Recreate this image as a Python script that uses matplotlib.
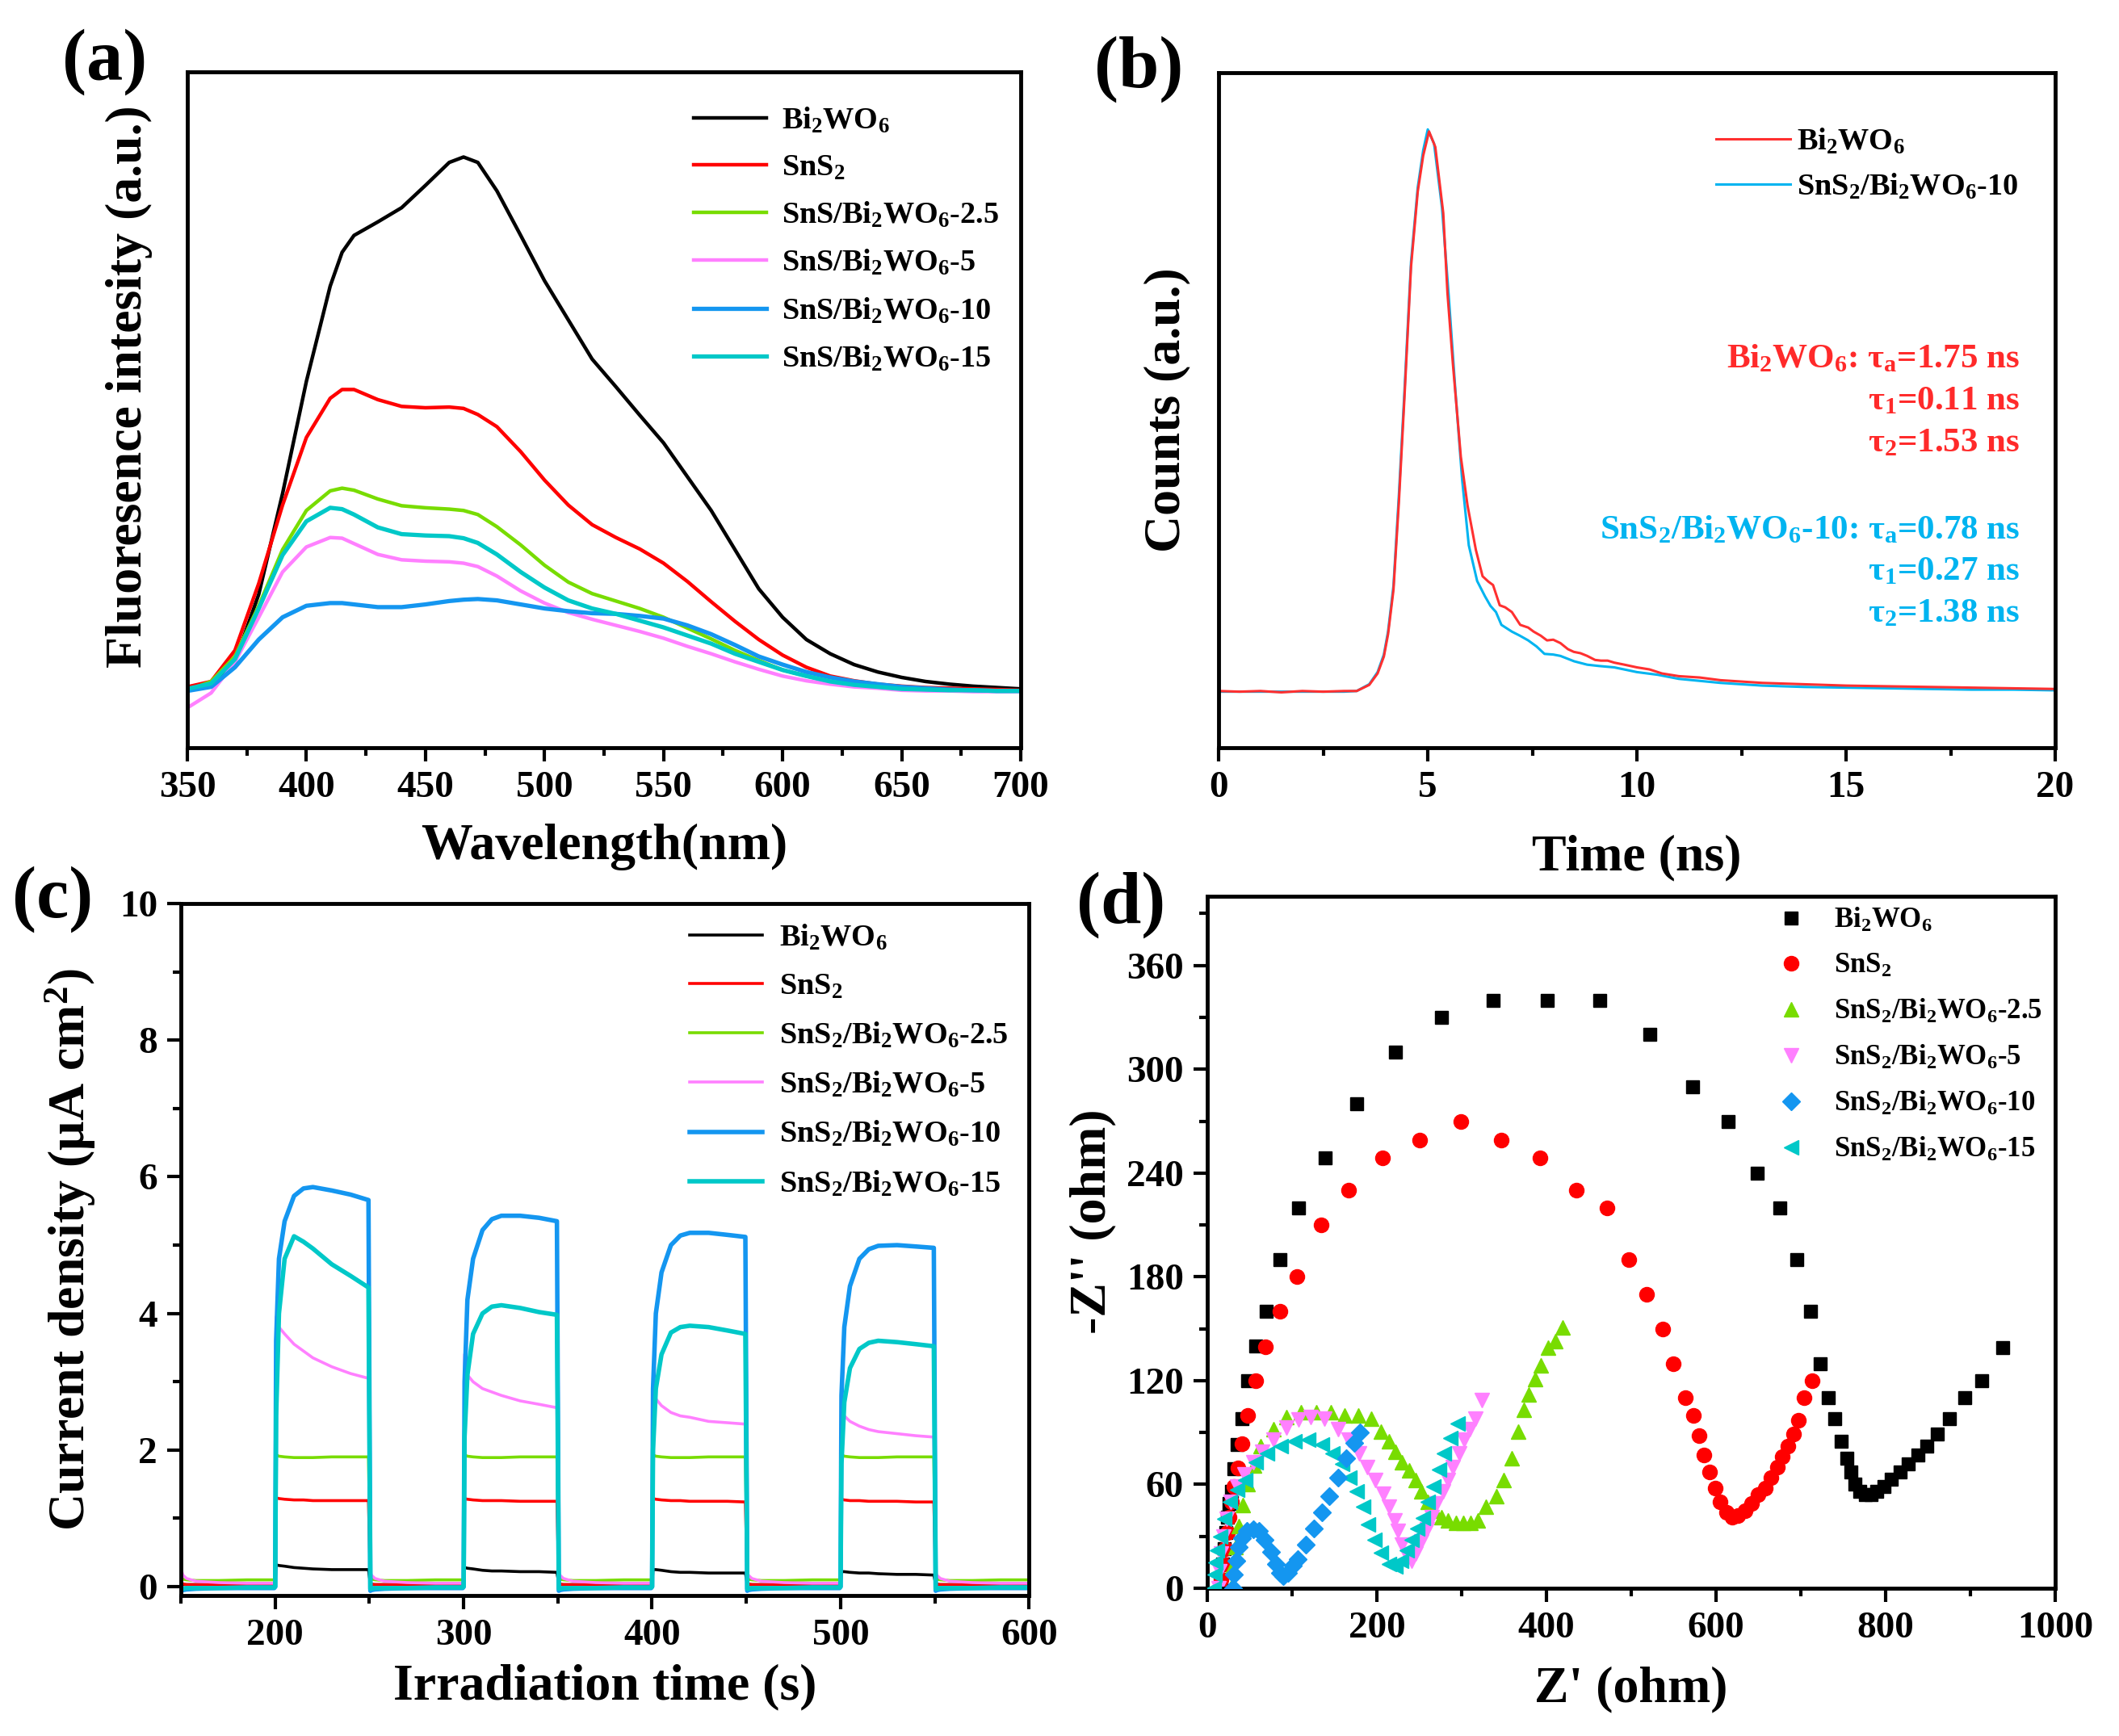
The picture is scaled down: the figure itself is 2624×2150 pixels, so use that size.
import matplotlib
matplotlib.use('Agg')
import matplotlib.pyplot as plt
from matplotlib.ticker import MultipleLocator

plt.rcParams['font.family'] = ['Liberation Serif', 'DejaVu Serif']
plt.rcParams['font.weight'] = 'bold'
plt.rcParams['axes.labelweight'] = 'bold'
plt.rcParams['mathtext.fontset'] = 'custom'
plt.rcParams['mathtext.rm'] = 'Liberation Serif:bold'
plt.rcParams['mathtext.it'] = 'Liberation Serif:bold'
plt.rcParams['mathtext.bf'] = 'Liberation Serif:bold'
plt.rcParams['mathtext.default'] = 'rm'

# ---------------- (a) PL spectra ----------------
wl = [350, 360, 370, 380, 390, 400, 410, 415, 420, 430, 440, 450, 460, 466, 472, 480, 490, 500, 510,
      520, 530, 540, 550, 560, 570, 580, 590, 600, 610, 620, 630, 640, 650, 660, 670, 680, 690, 700]
pl_bwo = [8.7, 9.2, 12.7, 22.7, 37.6, 54.2, 68.3, 73.3, 75.8, 77.8, 79.9, 83.2, 86.6, 87.4, 86.6, 82.4, 75.8,
          69.1, 63.3, 57.5, 53.4, 49.2, 45.1, 40.1, 35.1, 29.3, 23.5, 19.3, 16.0, 13.9, 12.3, 11.2, 10.4,
          9.8, 9.4, 9.1, 8.9, 8.7]
pl_sns2 = [9.0, 9.8, 14.4, 24.3, 35.9, 45.9, 51.7, 53.0, 53.0, 51.5, 50.5, 50.3, 50.4, 50.2, 49.3, 47.5, 43.8,
           39.6, 35.9, 33.0, 31.1, 29.4, 27.3, 24.6, 21.6, 18.7, 16.0, 13.7, 11.9, 10.6, 9.9, 9.4, 9.1,
           8.9, 8.8, 8.7, 8.6, 8.5]
pl_25 = [8.5, 9.8, 13.5, 21.0, 29.3, 35.1, 38.0, 38.4, 38.1, 36.8, 35.8, 35.5, 35.3, 35.1, 34.5, 32.7, 30.0,
         27.0, 24.5, 22.8, 21.7, 20.6, 19.3, 17.7, 16.1, 14.4, 12.9, 11.5, 10.6, 9.8, 9.3, 9.0, 8.7,
         8.6, 8.5, 8.5, 8.4, 8.4]
pl_5 = [5.9, 8.1, 12.7, 19.3, 26.0, 29.7, 31.1, 31.0, 30.2, 28.6, 27.8, 27.6, 27.5, 27.3, 26.8, 25.4, 23.2,
        21.4, 20.0, 19.0, 18.1, 17.2, 16.2, 15.0, 13.9, 12.7, 11.6, 10.6, 9.9, 9.4, 9.0, 8.8, 8.5,
        8.4, 8.4, 8.3, 8.3, 8.3]
pl_10 = [8.4, 9.0, 11.9, 16.0, 19.3, 21.0, 21.4, 21.4, 21.2, 20.8, 20.8, 21.2, 21.7, 21.9, 22.0, 21.8, 21.2,
         20.6, 20.2, 19.9, 19.8, 19.5, 19.1, 18.1, 16.8, 15.2, 13.5, 12.3, 11.2, 10.4, 9.8, 9.4, 9.0,
         8.8, 8.6, 8.5, 8.4, 8.4]
pl_15 = [8.7, 9.5, 13.1, 20.6, 28.5, 33.5, 35.5, 35.3, 34.5, 32.6, 31.6, 31.4, 31.3, 31.0, 30.3, 28.6, 26.0,
         23.7, 21.8, 20.6, 19.8, 18.8, 17.8, 16.6, 15.4, 13.9, 12.7, 11.5, 10.6, 9.8, 9.3, 9.0, 8.7,
         8.6, 8.5, 8.5, 8.4, 8.4]

# ---------------- (b) TRPL decay ----------------
t_red = [0, 0.5, 1.0, 1.5, 2.0, 2.5, 3.0, 3.3, 3.6, 3.8, 3.95, 4.05, 4.18, 4.31, 4.44, 4.6, 4.76, 4.89, 5.03,
         5.18, 5.37, 5.47, 5.6, 5.79, 5.95, 6.15, 6.31, 6.45, 6.56, 6.72, 6.85, 7.01, 7.21, 7.4, 7.53, 7.7,
         7.85, 8.0, 8.17, 8.35, 8.49, 8.65, 8.81, 9.0, 9.14, 9.3, 9.46, 9.7, 10.0, 10.3, 10.6, 11.0, 11.5,
         12.0, 12.5, 13.0, 13.5, 14.0, 15.0, 16.0, 17.0, 18.0, 19.0, 20.0]
c_red = [8.4, 8.3, 8.4, 8.2, 8.4, 8.3, 8.4, 8.4, 9.3, 11.0, 13.5, 16.8, 23.4, 36.5, 51.6, 71.3, 82.4, 87.7, 91.3,
         89.0, 79.2, 67.4, 56.9, 43.1, 35.9, 29.3, 25.4, 24.6, 24.1, 21.1, 20.8, 20.1, 18.2, 17.8, 17.2, 16.6,
         15.9, 16.0, 15.5, 14.6, 14.2, 14.0, 13.6, 13.0, 12.9, 12.9, 12.6, 12.3, 11.9, 11.6, 11.0, 10.6, 10.4,
         10.0, 9.8, 9.6, 9.5, 9.4, 9.2, 9.1, 9.0, 8.9, 8.8, 8.7]
t_blue = [0, 1.0, 2.0, 3.0, 3.3, 3.6, 3.8, 3.95, 4.05, 4.18, 4.31, 4.44, 4.6, 4.76, 4.89, 5.0, 5.15, 5.34, 5.5,
          5.66, 5.82, 5.98, 6.18, 6.37, 6.5, 6.63, 6.76, 7.01, 7.2, 7.4, 7.6, 7.79, 8.0, 8.17, 8.5, 8.81, 9.1,
          9.46, 10.0, 10.5, 11.0, 11.5, 12.0, 13.0, 14.0, 15.0, 16.0, 17.0, 18.0, 19.0, 20.0]
c_blue = [8.3, 8.3, 8.3, 8.3, 8.4, 9.4, 11.2, 13.8, 17.2, 24.0, 37.5, 52.5, 72.0, 83.0, 88.5, 91.6, 89.5, 80.0,
          67.0, 52.9, 39.8, 30.0, 24.7, 22.4, 21.0, 20.1, 18.2, 17.2, 16.6, 15.9, 15.0, 13.9, 13.8, 13.6, 12.8,
          12.3, 12.1, 11.9, 11.2, 10.8, 10.2, 9.9, 9.6, 9.2, 9.0, 8.9, 8.8, 8.7, 8.6, 8.6, 8.5]

# ---------------- (c) photocurrent ----------------
on_starts = [200, 300, 400, 500]
off_starts = [150, 250, 350, 450, 550]
on_dt = [0, 0.5, 2, 5, 10, 15, 20, 30, 40, 49.5]
off_dt = [0.5, 1, 3, 8, 20, 35, 49.5]

i_bwo_on = [[0.03, 0.32, 0.31, 0.30, 0.28, 0.27, 0.26, 0.25, 0.25, 0.25],
            [0.03, 0.28, 0.27, 0.26, 0.24, 0.23, 0.23, 0.22, 0.22, 0.21],
            [0.03, 0.25, 0.25, 0.24, 0.22, 0.21, 0.21, 0.20, 0.20, 0.20],
            [0.03, 0.22, 0.22, 0.21, 0.20, 0.20, 0.19, 0.18, 0.18, 0.17]]
i_bwo_off = [0.04, 0.03, 0.03, 0.03, 0.03, 0.03, 0.03]
i_sns2_on = [[0.03, 1.30, 1.29, 1.28, 1.27, 1.27, 1.26, 1.26, 1.26, 1.26],
             [0.03, 1.29, 1.28, 1.27, 1.26, 1.26, 1.26, 1.25, 1.25, 1.25],
             [0.03, 1.29, 1.28, 1.27, 1.26, 1.26, 1.25, 1.25, 1.25, 1.24],
             [0.03, 1.28, 1.27, 1.26, 1.26, 1.25, 1.25, 1.25, 1.24, 1.24]]
i_sns2_off = [0.06, 0.04, 0.03, 0.03, 0.03, 0.03, 0.03]
i_25_on = [[0.10, 1.93, 1.91, 1.90, 1.89, 1.89, 1.89, 1.90, 1.90, 1.90]] * 4
i_25_off = [0.12, 0.11, 0.10, 0.09, 0.09, 0.10, 0.10]
i_5_on = [[0.05, 3.95, 3.80, 3.70, 3.55, 3.45, 3.35, 3.22, 3.12, 3.05],
          [0.05, 3.40, 3.10, 3.00, 2.90, 2.85, 2.80, 2.72, 2.67, 2.62],
          [0.05, 2.95, 2.75, 2.65, 2.55, 2.50, 2.48, 2.42, 2.40, 2.38],
          [0.05, 2.70, 2.50, 2.42, 2.35, 2.30, 2.27, 2.24, 2.21, 2.19]]
i_5_off = [0.22, 0.17, 0.12, 0.08, 0.06, 0.05, 0.05]
i_10_on = [[0.0, 3.60, 4.80, 5.35, 5.72, 5.83, 5.85, 5.80, 5.74, 5.66],
           [0.0, 3.00, 4.20, 4.80, 5.22, 5.38, 5.43, 5.43, 5.40, 5.35],
           [0.0, 2.90, 4.00, 4.60, 5.00, 5.14, 5.18, 5.18, 5.15, 5.12],
           [0.0, 2.80, 3.80, 4.40, 4.80, 4.94, 4.99, 5.00, 4.98, 4.96]]
i_10_off = [-0.06, -0.05, -0.04, -0.03, -0.02, -0.02, -0.02]
i_15_on = [[0.0, 2.50, 4.00, 4.80, 5.13, 5.05, 4.95, 4.72, 4.55, 4.38],
           [0.0, 2.20, 3.10, 3.70, 4.00, 4.10, 4.12, 4.08, 4.02, 3.98],
           [0.0, 2.00, 2.90, 3.40, 3.72, 3.80, 3.82, 3.80, 3.75, 3.70],
           [0.0, 1.80, 2.70, 3.20, 3.48, 3.57, 3.60, 3.58, 3.55, 3.52]]
i_15_off = [-0.03, -0.03, -0.02, -0.02, -0.02, -0.01, -0.01]

# ---------------- (d) Nyquist ----------------
zr_bwo = [16, 18, 20, 22, 24, 26, 28.6, 31.4, 35, 41, 47.6, 57, 70, 86, 108, 139, 176, 222, 276, 337, 401, 463,
          522, 572, 614, 649, 675, 695, 711, 723, 732, 740, 748, 754, 759, 764, 770, 776, 783, 790, 798, 807,
          817, 827, 838, 849, 861, 875, 893, 913, 938]
zi_bwo = [5, 14, 23, 32, 41, 49, 56, 69, 83, 98, 120, 140, 160, 190, 220, 249, 280, 310, 330, 340, 340, 340,
          320, 290, 270, 240, 220, 190, 160, 130, 110, 98, 85, 75, 67, 60, 56, 54, 54, 56, 59, 63,
          67, 72, 77, 82, 89, 98, 110, 120, 139]
zr_sns2 = [14, 16, 19, 21, 23.5, 25.7, 28.6, 31.4, 36.5, 41, 47.6, 57, 68.6, 85.7, 106, 134, 167, 207, 251, 299,
           347, 392, 435, 471, 497, 518, 537, 550, 564, 573, 580, 586, 592, 599, 605, 612, 619, 626, 634, 642,
           650, 658, 665, 672, 678, 685, 691, 697, 704, 713]
zi_sns2 = [0, 5, 14, 23, 32, 41, 50, 59, 69.5, 83.5, 100, 120, 139.5, 160, 180, 210, 230, 249, 259, 270,
           259, 249, 230, 220, 190, 170, 150, 130, 110, 100, 88, 77, 67, 58, 50, 44, 41, 42, 45, 49,
           54, 58, 64, 70, 76, 82, 89, 97, 110, 120]
zr_25 = [28, 30, 33, 37, 42, 48, 55, 63, 78, 93, 111, 129, 146, 162, 178, 193, 205, 214, 222, 230, 238, 246,
         252, 260, 268, 276, 284, 293, 302, 311, 319, 329, 341, 350, 359, 367, 373, 379, 387, 393, 402, 411, 419]
zi_25 = [0, 12, 24, 36, 48, 60, 71, 82, 92, 99, 102, 102, 102, 100, 100, 98, 90.5, 85, 79, 73, 68, 62.5,
         56, 50, 45, 41, 39, 38, 38, 38, 39, 47, 53, 62.5, 75, 90.5, 103, 112, 121, 129, 139, 143, 151]
zr_5 = [13, 14, 16, 19, 23, 28, 35, 44, 54, 65, 78, 93, 108, 122, 138, 154, 167, 179, 189, 198, 208, 214, 221,
        225, 230, 236, 241, 246, 252, 259, 265, 271, 278, 284, 290, 297, 303, 310, 316, 324]
zi_5 = [0, 10, 20, 30, 40, 50, 59, 66, 73, 79, 86, 93, 97.5, 99, 98, 92, 86, 78, 70, 62.5, 54.6, 47, 39,
        33, 25, 18, 16, 20, 27, 34, 41, 49, 56, 62.5, 70, 78, 86, 92, 98, 109]
zr_10 = [31, 32, 34, 37, 41, 47, 54, 61, 68, 75, 81, 86, 90, 95, 101, 107, 116, 126, 135, 144, 154, 164, 173, 180]
zi_10 = [0, 8, 16, 24, 29, 33, 34, 33, 28, 21, 14, 9, 7, 9, 13, 17, 25, 34.5, 44, 53, 64, 75, 84, 90]
zr_15 = [8, 9, 10, 12, 15, 20, 27, 35, 45, 57, 71, 87, 103, 119, 135, 148, 159, 168, 176, 184, 190, 197, 205,
         214, 222, 229, 235, 241, 248, 254, 260, 267, 273, 279, 287, 295]
zi_15 = [0, 8, 15, 22, 30, 40, 50, 57, 62.5, 73, 78, 82, 85, 86, 83, 78, 72, 64, 56, 47, 37, 28, 20.5,
         14, 12.6, 16, 22, 28, 34.5, 40.6, 50, 59, 68.6, 78, 87, 95]

labels_a = ['Bi$_2$WO$_6$', 'SnS$_2$', 'SnS/Bi$_2$WO$_6$-2.5', 'SnS/Bi$_2$WO$_6$-5',
            'SnS/Bi$_2$WO$_6$-10', 'SnS/Bi$_2$WO$_6$-15']
labels_cd = ['Bi$_2$WO$_6$', 'SnS$_2$', 'SnS$_2$/Bi$_2$WO$_6$-2.5', 'SnS$_2$/Bi$_2$WO$_6$-5',
             'SnS$_2$/Bi$_2$WO$_6$-10', 'SnS$_2$/Bi$_2$WO$_6$-15']
colors = ['#000000', '#ff0000', '#78dc00', '#ff80ff', '#1496f0', '#00c8c8']

TICK = 34
LAB = 46
LEG = 27.5
PANEL = 65


def style_axis(ax):
    for s in ax.spines.values():
        s.set_linewidth(3.5)
    ax.tick_params(which='both', direction='out', width=3, labelsize=TICK, top=False, right=False, pad=9)
    ax.tick_params(which='major', length=12)
    ax.tick_params(which='minor', length=7)


fig = plt.figure(figsize=(26.24, 21.5), dpi=100)

# ---- (a)
ax = fig.add_axes([0.0884, 0.5693, 0.3933, 0.3893])
series_a = [pl_bwo, pl_sns2, pl_25, pl_5, pl_10, pl_15]
widths_a = [3.2, 3.2, 3.2, 3.2, 3.8, 3.8]
for y, c, lab, lw in zip(series_a, colors, labels_a, widths_a):
    ax.plot(wl, y, color=c, lw=lw, label=lab)
ax.set_xlim(350, 700)
ax.set_ylim(0, 100)
ax.set_yticks([])
ax.xaxis.set_major_locator(MultipleLocator(50))
ax.xaxis.set_minor_locator(MultipleLocator(25))
style_axis(ax)
ax.set_xlabel('Wavelength(nm)', fontsize=LAB)
ax.set_ylabel('Fluoresence intesity (a.u.)', fontsize=LAB)
ax.xaxis.set_label_coords(0.5, -0.112)
ax.yaxis.set_label_coords(-0.042, 0.535)
ax.legend(loc='upper left', bbox_to_anchor=(0.608, 0.95), frameon=False, fontsize=LEG,
          handlelength=2.35, handletextpad=0.5, labelspacing=0.6, borderpad=0, borderaxespad=0)
fig.text(0.0495, 0.9645, '(a)', fontsize=PANEL, ha='center', va='center')

# ---- (b)
ax = fig.add_axes([0.5751, 0.5693, 0.3948, 0.3888])
ax.plot(t_blue, c_blue, color='#00b4f0', lw=2.2, label='SnS$_2$/Bi$_2$WO$_6$-10')
ax.plot(t_red, c_red, color='#ff3030', lw=2.2, label='Bi$_2$WO$_6$')
ax.set_xlim(0, 20)
ax.set_ylim(0, 100)
ax.set_yticks([])
ax.xaxis.set_major_locator(MultipleLocator(5))
ax.xaxis.set_minor_locator(MultipleLocator(2.5))
style_axis(ax)
ax.set_xlabel('Time (ns)', fontsize=LAB)
ax.set_ylabel('Counts (a.u.)', fontsize=LAB)
ax.xaxis.set_label_coords(0.5, -0.128)
ax.yaxis.set_label_coords(-0.033, 0.5)
h, l = ax.get_legend_handles_labels()
ax.legend(h[::-1], l[::-1], loc='upper left', bbox_to_anchor=(0.595, 0.92), frameon=False, fontsize=LEG,
          handlelength=2.4, handletextpad=0.2, labelspacing=0.52, borderpad=0, borderaxespad=0)
red_txt = ['Bi$_2$WO$_6$: τ$_a$=1.75 ns', 'τ$_1$=0.11 ns', 'τ$_2$=1.53 ns']
blue_txt = ['SnS$_2$/Bi$_2$WO$_6$-10: τ$_a$=0.78 ns', 'τ$_1$=0.27 ns', 'τ$_2$=1.38 ns']
for i, s in enumerate(red_txt):
    ax.text(19.15, 57.5 - 6.2 * i, s, color='#ff2a2a', fontsize=31, ha='right', va='center')
for i, s in enumerate(blue_txt):
    ax.text(19.15, 32.2 - 6.2 * i, s, color='#00b4f0', fontsize=31, ha='right', va='center')
fig.text(0.5375, 0.96, '(b)', fontsize=PANEL, ha='center', va='center')

# ---- (c)
ax = fig.add_axes([0.0854, 0.0809, 0.4002, 0.3986])
series_c = [(i_bwo_on, i_bwo_off), (i_sns2_on, i_sns2_off), (i_25_on, i_25_off),
            (i_5_on, i_5_off), (i_10_on, i_10_off), (i_15_on, i_15_off)]
widths_c = [2.6, 2.6, 2.6, 2.6, 4.0, 4.0]
for (on_v, off_v), c, lab, lw in zip(series_c, colors, labels_cd, widths_c):
    tt, vv = [], []
    for k, t0 in enumerate(off_starts):
        tt += [t0 + d for d in off_dt]
        vv += off_v
        if k < len(on_starts):
            tt += [on_starts[k] + d for d in on_dt]
            vv += on_v[k]
    ax.plot(tt, vv, color=c, lw=lw, label=lab)
ax.set_xlim(150, 600)
ax.set_ylim(-0.13, 10)
ax.xaxis.set_major_locator(MultipleLocator(100))
ax.xaxis.set_minor_locator(MultipleLocator(50))
ax.yaxis.set_major_locator(MultipleLocator(2))
ax.yaxis.set_minor_locator(MultipleLocator(1))
style_axis(ax)
ax.set_xlabel('Irradiation time (s)', fontsize=LAB)
ax.set_ylabel('Current density (μA cm$^2$)', fontsize=LAB)
ax.xaxis.set_label_coords(0.5, -0.099)
ax.yaxis.set_label_coords(-0.098, 0.5)
ax.legend(loc='upper left', bbox_to_anchor=(0.6, 0.972), frameon=False, fontsize=LEG,
          handlelength=2.35, handletextpad=0.55, labelspacing=0.65, borderpad=0, borderaxespad=0)
fig.text(0.025, 0.482, '(c)', fontsize=PANEL, ha='center', va='center')

# ---- (d)
ax = fig.add_axes([0.5697, 0.0851, 0.4002, 0.3986])
series_d = [(zr_bwo, zi_bwo), (zr_sns2, zi_sns2), (zr_25, zi_25), (zr_5, zi_5), (zr_10, zi_10), (zr_15, zi_15)]
markers = ['s', 'o', '^', 'v', 'D', '<']
msizes = [11.5, 13, 13, 13, 11, 13]
zords = [2, 2, 2, 2, 4, 3]
for (x, y), c, lab, m, ms, z in zip(series_d, colors, labels_cd, markers, msizes, zords):
    ax.plot(x, y, ls='none', marker=m, ms=ms, color=c, mec=c, label=lab, zorder=z)
ax.set_xlim(0, 1000)
ax.set_ylim(0, 400)
ax.xaxis.set_major_locator(MultipleLocator(200))
ax.xaxis.set_minor_locator(MultipleLocator(100))
ax.yaxis.set_major_locator(MultipleLocator(60))
ax.yaxis.set_minor_locator(MultipleLocator(30))
style_axis(ax)
ax.set_xlabel("Z' (ohm)", fontsize=LAB)
ax.set_ylabel("-Z'' (ohm)", fontsize=LAB)
ax.xaxis.set_label_coords(0.5, -0.113)
ax.yaxis.set_label_coords(-0.107, 0.53)
ax.legend(loc='upper left', bbox_to_anchor=(0.67, 0.985), frameon=False, fontsize=25,
          handlelength=1.1, handletextpad=1.0, labelspacing=0.66, borderpad=0, borderaxespad=0)
fig.text(0.529, 0.479, '(d)', fontsize=PANEL, ha='center', va='center')

fig.savefig('out.png', dpi=100, facecolor='white')
